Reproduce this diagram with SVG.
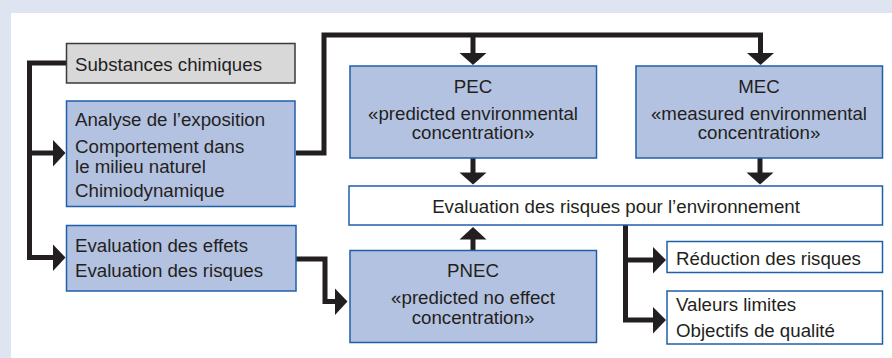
<svg xmlns="http://www.w3.org/2000/svg" width="892" height="358" viewBox="0 0 892 358">
<style>
.bg{fill:#dfe5f0}
.panel{fill:#ffffff}
.grey{fill:#d8d8d8;stroke:#3a3a3a;stroke-width:1.5}
.blue{fill:#b4c2e1;stroke:#1f5fa8;stroke-width:1.5}
.white{fill:#ffffff;stroke:#1f5fa8;stroke-width:1.5}
text{font-family:"Liberation Sans",Arial,sans-serif;font-size:18.7px;fill:#231f20}
.c{text-anchor:middle}
.ln{fill:none;stroke:#231f20;stroke-width:5;stroke-linejoin:miter}
.ah{fill:#231f20}
</style>
<rect class="bg" x="0" y="0" width="892" height="358"/>
<rect class="panel" x="11" y="13" width="881" height="345"/>

<g id="connectors">
  <polyline class="ln" points="66,63 29.5,63 29.5,257.5 54,257.5"/>
  <line class="ln" x1="29.5" y1="153" x2="54" y2="153"/>
  <polygon class="ah" points="53,140 65.5,153 53,166.5"/>
  <polygon class="ah" points="53,244.5 65.5,257.5 53,271"/>
  <polyline class="ln" points="296,153 324,153 324,35 760.5,35 760.5,54"/>
  <line class="ln" x1="473" y1="35" x2="473" y2="54"/>
  <polygon class="ah" points="459.5,53 486.5,53 473,65"/>
  <polygon class="ah" points="747,53 774,53 760.5,65"/>
  <line class="ln" x1="473" y1="158" x2="473" y2="173"/>
  <polygon class="ah" points="459.5,172.5 486.5,172.5 473,184.5"/>
  <line class="ln" x1="760" y1="158" x2="760" y2="173"/>
  <polygon class="ah" points="746.5,172.5 773.5,172.5 760,184.5"/>
  <line class="ln" x1="473" y1="250" x2="473" y2="238"/>
  <polygon class="ah" points="459.5,239.5 486.5,239.5 473,227"/>
  <polyline class="ln" points="296,259 325,259 325,301.5 336,301.5"/>
  <polygon class="ah" points="335,288.5 347.5,301.5 335,315"/>
  <polyline class="ln" points="625.5,225 625.5,320 654,320"/>
  <line class="ln" x1="625.5" y1="260" x2="654" y2="260"/>
  <polygon class="ah" points="653,247 666,260 653,273.5"/>
  <polygon class="ah" points="653,307 666,320 653,333.5"/>
</g>

<g id="substances">
  <rect class="grey" x="66.5" y="43.5" width="228.5" height="39.5"/>
  <text x="75" y="71">Substances chimiques</text>
</g>
<g id="analyse">
  <rect class="blue" x="66.5" y="101" width="228.5" height="105.5"/>
  <text x="75" y="126">Analyse de l’exposition</text>
  <text x="75" y="152.5">Comportement dans</text>
  <text x="75" y="172.5">le milieu naturel</text>
  <text x="75" y="197">Chimiodynamique</text>
</g>
<g id="effets">
  <rect class="blue" x="66.5" y="225.5" width="229.5" height="65.5"/>
  <text x="75" y="251.5">Evaluation des effets</text>
  <text x="75" y="276.5">Evaluation des risques</text>
</g>
<g id="pec">
  <rect class="blue" x="350" y="66" width="246.5" height="92"/>
  <text class="c" x="473" y="93">PEC</text>
  <text class="c" x="473" y="120">«predicted environmental</text>
  <text class="c" x="473" y="139">concentration»</text>
</g>
<g id="mec">
  <rect class="blue" x="636" y="66" width="246.5" height="92"/>
  <text class="c" x="759" y="93">MEC</text>
  <text class="c" x="759" y="120">«measured environmental</text>
  <text class="c" x="759" y="139">concentration»</text>
</g>
<g id="evaluation">
  <rect class="white" x="349" y="186" width="533.5" height="39"/>
  <text class="c" x="616" y="212.5">Evaluation des risques pour l’environnement</text>
</g>
<g id="pnec">
  <rect class="blue" x="350" y="250.5" width="246.5" height="92"/>
  <text class="c" x="473" y="277">PNEC</text>
  <text class="c" x="473" y="303.5">«predicted no effect</text>
  <text class="c" x="473" y="324">concentration»</text>
</g>
<g id="reduction">
  <rect class="white" x="667" y="241.5" width="215.5" height="31"/>
  <text x="676" y="265">Réduction des risques</text>
</g>
<g id="valeurs">
  <rect class="white" x="667" y="291" width="215.5" height="53"/>
  <text x="676" y="310.5">Valeurs limites</text>
  <text x="676" y="336.5">Objectifs de qualité</text>
</g>
</svg>
